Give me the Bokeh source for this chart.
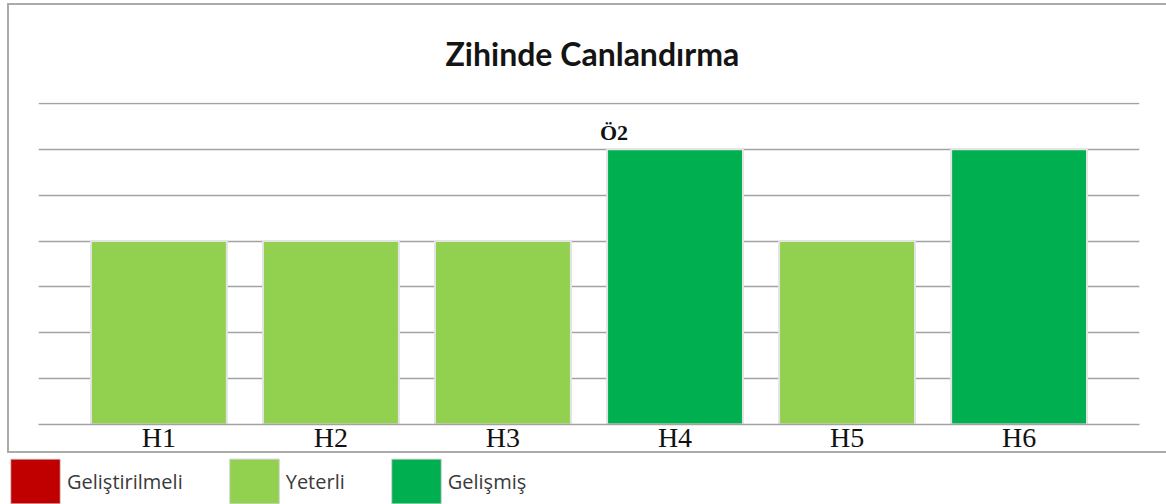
from bokeh.plotting import figure
from bokeh.models import (ColumnDataSource, FactorRange, Range1d, FixedTicker, Legend,
                          LegendItem, InlineStyleSheet)
from bokeh.transform import factor_cmap
from bokeh.embed import file_html
from bokeh.resources import INLINE
from bokeh.core.properties import value

# ---- data ----
title_text = "Zihinde Canlandırma"
categories = ["H1", "H2", "H3", "H4", "H5", "H6"]
levels = [4, 4, 4, 6, 4, 6]
status = ["Yeterli", "Yeterli", "Yeterli", "Gelişmiş", "Yeterli", "Gelişmiş"]
legend_labels = ["Geliştirilmeli", "Yeterli", "Gelişmiş"]
legend_colors = ["#C00000", "#92D050", "#00B050"]
y_ticks = [0, 1, 2, 3, 4, 5, 6, 7]
note_labels = ["Ö2"]
note_categories = ["H4"]

src = ColumnDataSource(dict(cat=categories, level=levels, status=status))
note_src = ColumnDataSource(dict(
    cat=note_categories,
    text=note_labels,
    level=[levels[categories.index(c)] for c in note_categories],
))
leg_src = ColumnDataSource(dict(
    label=legend_labels, color=legend_colors,
    x=[0.5] * len(legend_labels), top=[0] * len(legend_labels),
))

GRID = "#a3a3a3"

box_css = InlineStyleSheet(css="""
:host { position: relative; }
:host::after {
  content: ""; position: absolute; left: 7px; top: 3px; width: 1159px; height: 450px;
  border: 2px solid #ababab; border-right: none; box-sizing: border-box;
  pointer-events: none;
}
""")

# ---------------- chart (inside the grey box) ----------------
p = figure(
    x_range=FactorRange(factors=categories, range_padding=0.2, range_padding_units="absolute"),
    y_range=Range1d(0, 7.02),
    frame_width=1101, frame_height=322,
    min_border_left=38, min_border_right=27, min_border_top=102, min_border_bottom=0,
    output_backend="svg", toolbar_location=None,
    title=title_text,
    stylesheets=[box_css],
)
p.border_fill_alpha = 0
p.background_fill_color = "white"
p.outline_line_color = None

p.title.align = "left"
p.title.offset = 407
p.title.standoff = 60
p.title.text_font = "Lato"
p.title.text_font_style = "bold"
p.title.text_font_size = "32px"
p.title.text_color = "#141414"

p.vbar(x="cat", top="level", width=0.79, source=src,
       fill_color=factor_cmap("status", palette=legend_colors, factors=legend_labels),
       line_color="#e3e3e3", line_width=2)

p.text(x="cat", y="level", text="text", source=note_src,
       x_offset=-61, y_offset=-17, text_align="center", text_baseline="alphabetic",
       text_font=value("Liberation Serif"), text_font_style="bold",
       text_font_size="22px", text_color="#111111")

p.yaxis.visible = False
p.yaxis.ticker = FixedTicker(ticks=y_ticks)
p.ygrid.ticker = FixedTicker(ticks=y_ticks)
p.ygrid.grid_line_color = GRID
p.ygrid.grid_line_width = 1.5
p.xgrid.visible = False

p.xaxis.axis_line_color = GRID
p.xaxis.axis_line_width = 1.5
p.xaxis.major_tick_line_color = None
p.xaxis.minor_tick_line_color = None
p.xaxis.major_tick_out = 0
p.xaxis.major_tick_in = 0
p.xaxis.major_label_standoff = -3
p.xaxis.major_label_text_font = "Liberation Serif"
p.xaxis.major_label_text_font_size = "28px"
p.xaxis.major_label_text_color = "#111111"

# ---------------- legend strip (below the box) ----------------
lf = figure(width=1166, height=49, x_range=Range1d(0, 1), y_range=Range1d(0, 1),
            min_border=0, output_backend="svg", toolbar_location=None)
lf.axis.visible = False
lf.grid.visible = False
lf.outline_line_color = None
lf.border_fill_alpha = 0
lf.background_fill_alpha = 0

r = lf.vbar(x="x", top="top", width=0, source=leg_src, fill_color="color",
            line_color="#d6d6d6", line_width=1)
r.visible = False

legend = Legend(
    items=[LegendItem(label=l, renderers=[r], index=i) for i, l in enumerate(legend_labels)],
    orientation="horizontal", location=(4, -5),
    glyph_width=62, glyph_height=56, label_standoff=1, spacing=40,
    padding=0, margin=0, border_line_color=None, background_fill_alpha=0,
    label_text_font="Open Sans", label_text_font_size="20px", label_text_color="#3a3a3a",
    label_text_baseline="middle",
)
lf.add_layout(legend)

open("out.html", "w").write(file_html([p, lf], INLINE))
